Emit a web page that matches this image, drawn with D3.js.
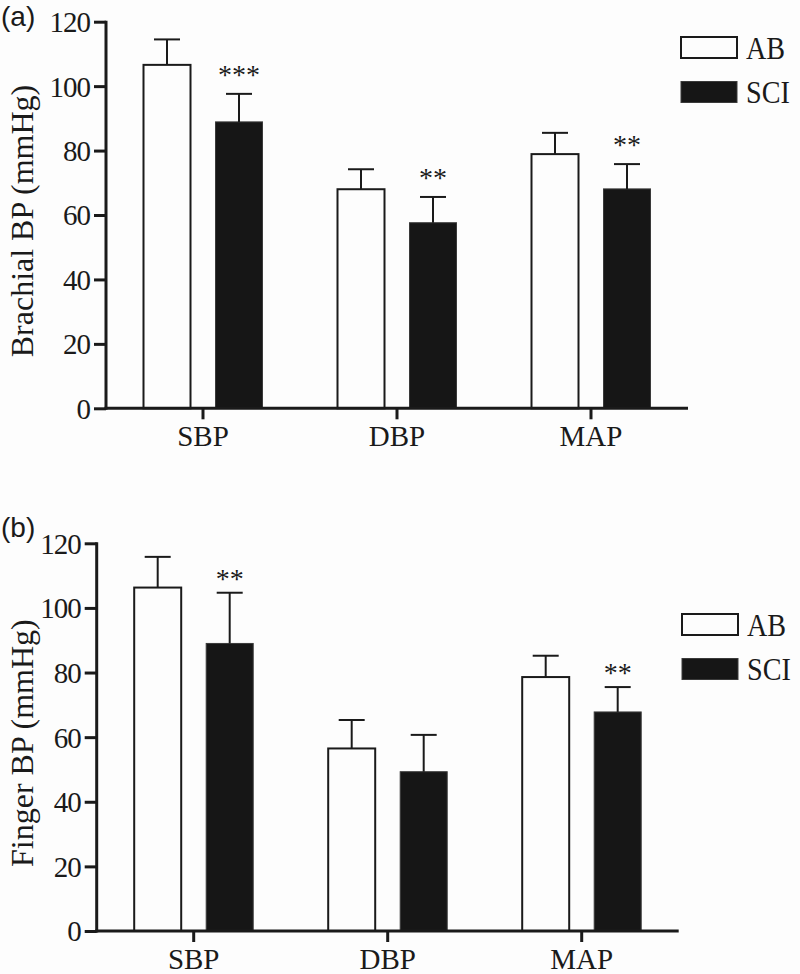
<!DOCTYPE html>
<html>
<head>
<meta charset="utf-8">
<script src="https://cdn.jsdelivr.net/npm/d3@7"></script>
<style>
  html, body { margin: 0; padding: 0; background: #fdfdfd; }
  svg { display: block; }
</style>
</head>
<body>
<svg id="chart" width="800" height="974"></svg>
<script>
// ---------- data ----------
const categories = ["SBP", "DBP", "MAP"];
const series = ["AB", "SCI"];
const yTicks = [0, 20, 40, 60, 80, 100, 120];

const brachialAB = [106.6, 68.0, 78.9];
const brachialABsd = [7.9, 6.2, 6.6];
const brachialSCI = [88.9, 57.6, 68.1];
const brachialSCIsd = [8.7, 8.0, 7.7];
const brachialSig = ["***", "**", "**"];

const fingerAB = [106.3, 56.5, 78.6];
const fingerABsd = [9.5, 8.8, 6.6];
const fingerSCI = [89.0, 49.3, 67.8];
const fingerSCIsd = [15.7, 11.4, 7.7];
const fingerSig = ["**", "", "**"];

// ---------- layout ----------
const INK = "#1a1a1a";
const SERIF = "'Liberation Serif', 'Times New Roman', serif";
const SANS = "'Liberation Sans', Arial, sans-serif";

const panels = [
  {
    tag: "(a)", tagY: 26, title: "Brachial BP (mmHg)",
    left: 106, top: 21.7, bottom: 408.3,
    ab: brachialAB, absd: brachialABsd, sci: brachialSCI, scisd: brachialSCIsd, sig: brachialSig,
    sigGap: 10, legendX: 681, legendY: 37
  },
  {
    tag: "(b)", tagY: 537, title: "Finger BP (mmHg)",
    left: 96.7, top: 543.3, bottom: 931,
    ab: fingerAB, absd: fingerABsd, sci: fingerSCI, scisd: fingerSCIsd, sig: fingerSig,
    sigGap: 5, legendX: 682, legendY: 614
  }
];

const svg = d3.select("#chart");
const plotWidth = 582;
const barW = 47;
const capW = 26;

panels.forEach(p => {
  const g = svg.append("g");

  const x = d3.scaleBand().domain(categories).range([p.left, p.left + plotWidth]).padding(0);
  const xs = d3.scalePoint().domain(series).range([-36, 36]);
  const y = d3.scaleLinear().domain([0, 120]).range([p.bottom, p.top]);

  const rows = [];
  categories.forEach((c, i) => {
    rows.push({ cat: c, s: "AB", v: p.ab[i], sd: p.absd[i], sig: "" });
    rows.push({ cat: c, s: "SCI", v: p.sci[i], sd: p.scisd[i], sig: p.sig[i] });
  });
  const cx = d => x(d.cat) + x.bandwidth() / 2 + xs(d.s);

  // bars
  g.selectAll("rect.bar").data(rows).enter().append("rect")
    .attr("class", "bar")
    .attr("x", d => cx(d) - barW / 2)
    .attr("width", barW)
    .attr("y", d => y(d.v))
    .attr("height", d => y(0) - y(d.v))
    .attr("fill", d => d.s === "AB" ? "#fdfdfd" : "#161616")
    .attr("stroke", d => d.s === "AB" ? INK : "#3a3a3a")
    .attr("stroke-width", d => d.s === "AB" ? 2 : 1);

  // error bars
  g.selectAll("line.err").data(rows).enter().append("line")
    .attr("x1", cx).attr("x2", cx)
    .attr("y1", d => y(d.v)).attr("y2", d => y(d.v + d.sd))
    .attr("stroke", INK).attr("stroke-width", 2);
  g.selectAll("line.cap").data(rows).enter().append("line")
    .attr("x1", d => cx(d) - capW / 2).attr("x2", d => cx(d) + capW / 2)
    .attr("y1", d => y(d.v + d.sd)).attr("y2", d => y(d.v + d.sd))
    .attr("stroke", INK).attr("stroke-width", 2);

  // significance stars
  g.selectAll("text.sig").data(rows.filter(d => d.sig)).enter().append("text")
    .attr("x", cx)
    .attr("y", d => y(d.v + d.sd) - p.sigGap)
    .attr("text-anchor", "middle")
    .attr("font-family", SERIF).attr("font-size", 28)
    .attr("fill", INK)
    .text(d => d.sig);

  // y axis
  const yAxis = d3.axisLeft(y).tickValues(yTicks).tickSize(12).tickPadding(4).tickFormat(d3.format("d"));
  const ya = g.append("g").attr("transform", `translate(${p.left},0)`).call(yAxis);
  ya.select(".domain").attr("d", `M0,${p.top - 1}V${p.bottom + 1.5}`)
    .attr("stroke", INK).attr("stroke-width", 3).attr("fill", "none");
  ya.selectAll(".tick line").attr("stroke", INK).attr("stroke-width", 3);
  ya.selectAll(".tick text").attr("font-family", SERIF).attr("font-size", 29)
    .attr("fill", INK).attr("letter-spacing", -1).attr("dy", "0.34em");

  // x axis
  const xAxis = d3.axisBottom(x).tickSize(11).tickPadding(0);
  const xa = g.append("g").attr("transform", `translate(0,${p.bottom})`).call(xAxis);
  xa.select(".domain").attr("d", `M${p.left - 1.5},0H${p.left + plotWidth}`)
    .attr("stroke", INK).attr("stroke-width", 3).attr("fill", "none");
  xa.selectAll(".tick line").attr("stroke", INK).attr("stroke-width", 3);
  xa.selectAll(".tick text").attr("font-family", SERIF).attr("font-size", 29)
    .attr("fill", INK).attr("y", 38).attr("dy", 0);

  // y title
  g.append("text")
    .attr("transform", `translate(33,${(p.top + p.bottom) / 2 + 6}) rotate(-90)`)
    .attr("text-anchor", "middle")
    .attr("font-family", SERIF).attr("font-size", 32)
    .attr("fill", INK)
    .text(p.title);

  // panel tag
  g.append("text")
    .attr("x", 1).attr("y", p.tagY)
    .attr("font-family", SANS).attr("font-size", 28)
    .attr("fill", INK)
    .text(p.tag);

  // legend
  const lg = g.append("g").attr("transform", `translate(${p.legendX},${p.legendY})`);
  series.forEach((s, i) => {
    const ly = i * 44.5;
    lg.append("rect")
      .attr("x", 0).attr("y", ly).attr("width", 56).attr("height", 21)
      .attr("fill", s === "AB" ? "#fdfdfd" : "#161616")
      .attr("stroke", s === "AB" ? INK : "#3a3a3a")
      .attr("stroke-width", s === "AB" ? 2 : 1);
    lg.append("text")
      .attr("transform", `translate(65,${ly + 21.5}) scale(0.88,1)`)
      .attr("font-family", SERIF).attr("font-size", 32)
      .attr("fill", INK)
      .text(s);
  });
});
</script>
</body>
</html>
